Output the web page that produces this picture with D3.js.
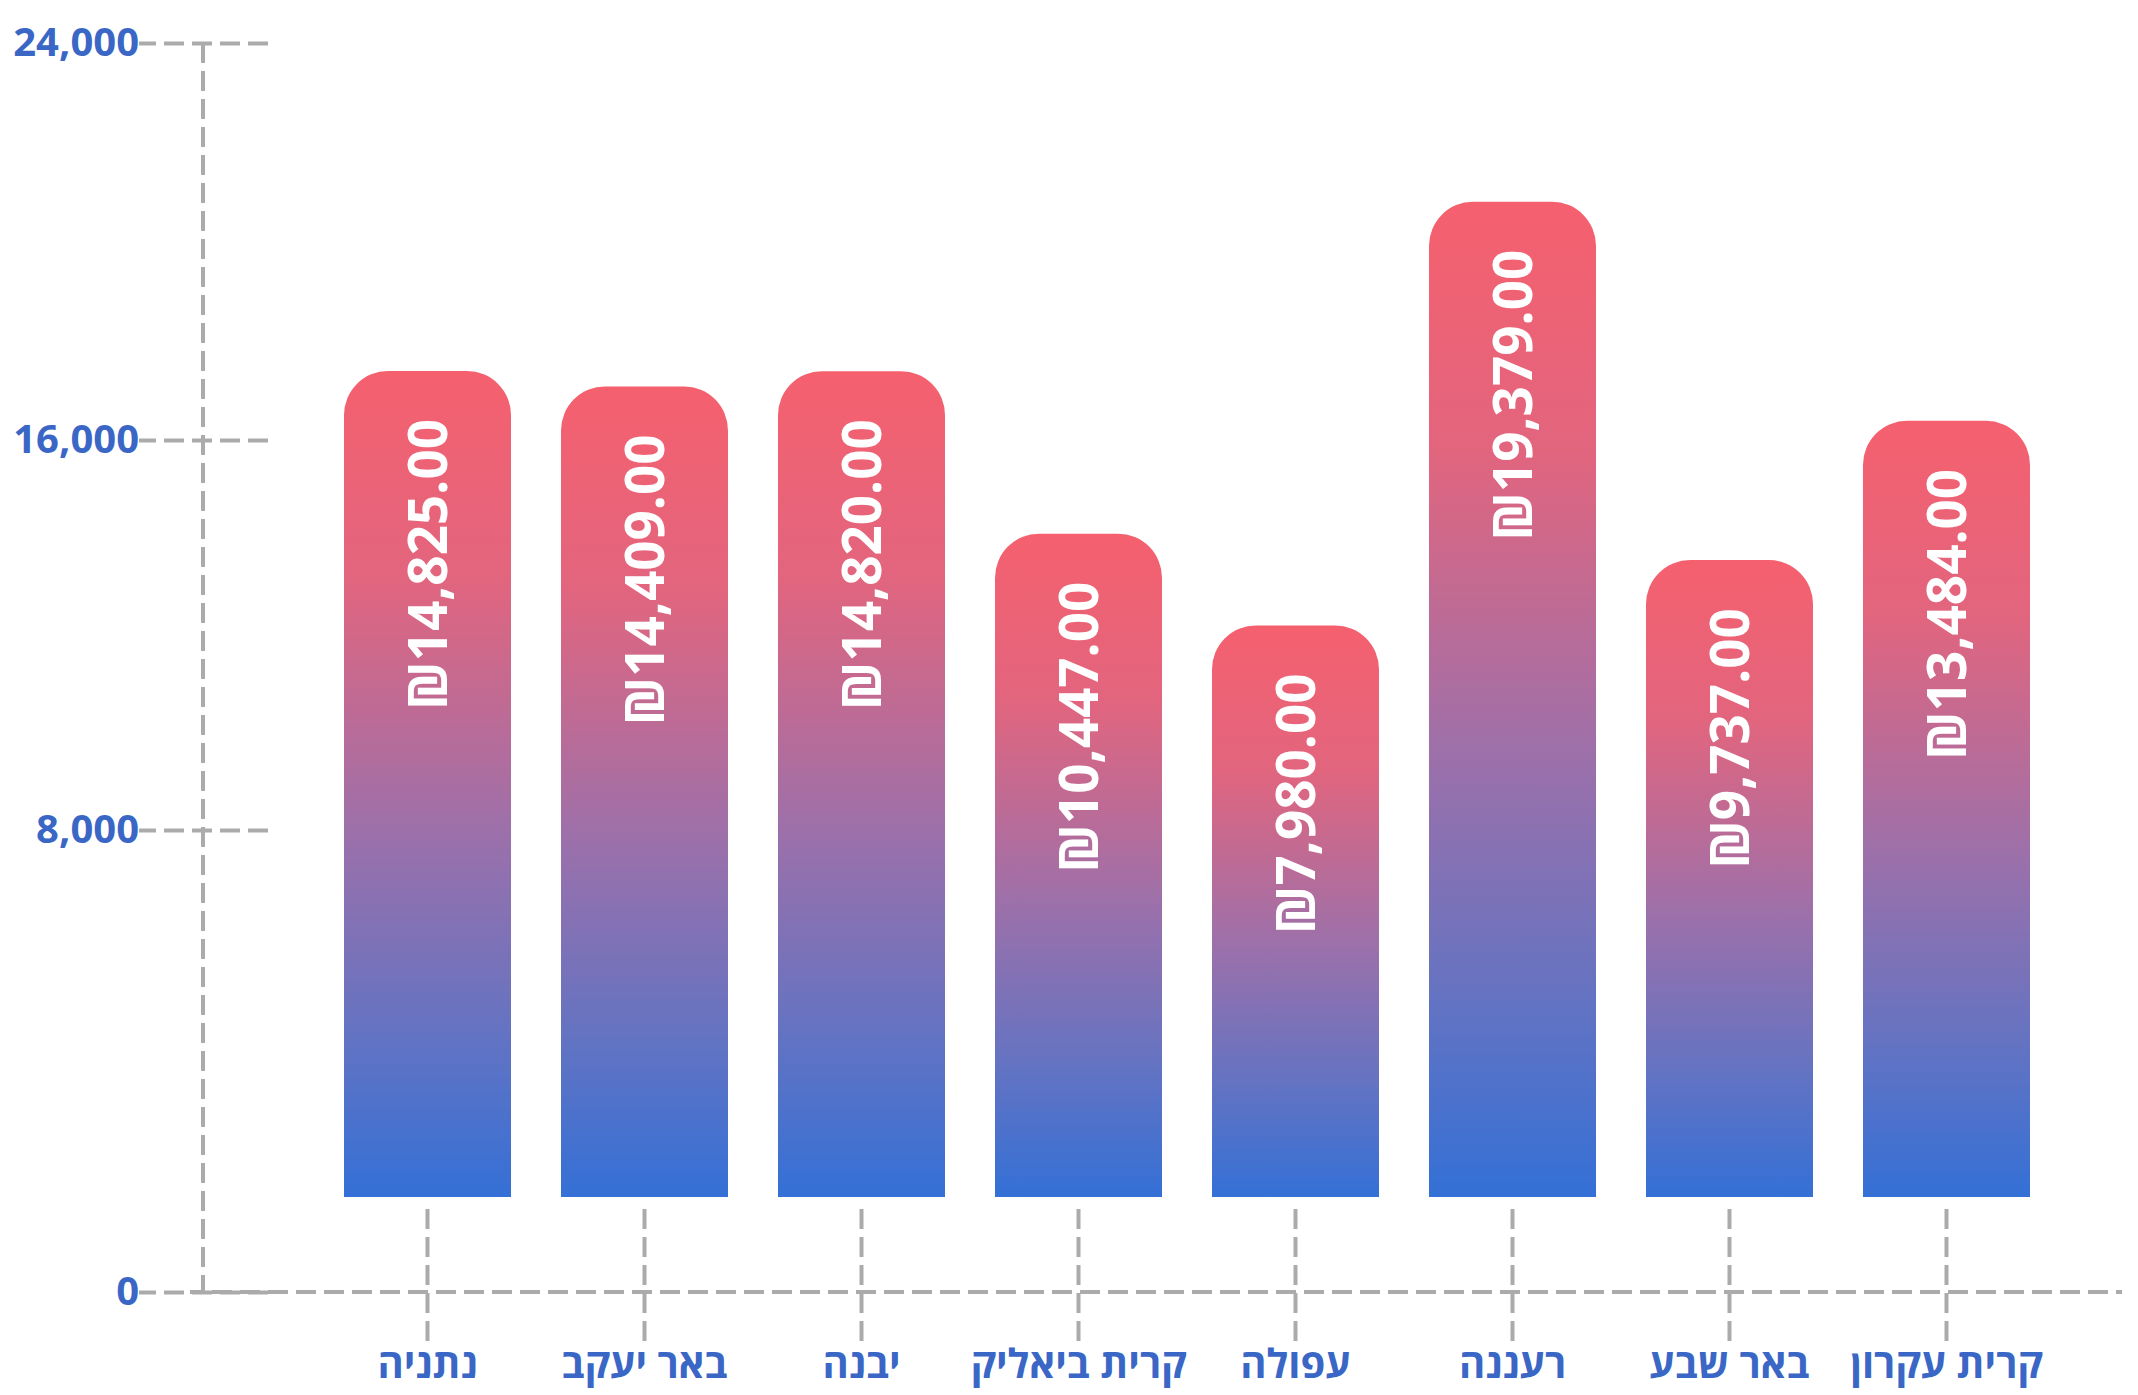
<!DOCTYPE html>
<html>
<head>
<meta charset="utf-8">
<script src="https://cdnjs.cloudflare.com/ajax/libs/d3/7.8.5/d3.min.js"></script>
<style>
  body { margin: 0; background: #fff; }
  svg { display: block; }
  text { font-family: "Open Sans", "DejaVu Sans", sans-serif; }
</style>
</head>
<body>
<div id="chart"></div>
<script>
// data
var cities = ["נתניה", "באר יעקב", "יבנה", "קרית ביאליק", "עפולה", "רעננה", "באר שבע", "קרית עקרון"];
var salaries = [14825, 14409, 14820, 10447, 7980, 19379, 9737, 13484];
var yTicks = [0, 8000, 16000, 24000];

// look
var width = 2138;
var height = 1395;
var blue = "#3a67c6";
var grid = "#ababab";
var dash = "20,8";
var barBase = 1197;   // bars stand on a floor above the axis
var labelGap = 48;
var radius = 44;

var ils = d3.formatLocale({ decimal: ".", thousands: ",", grouping: [3], currency: ["₪", ""] });
var fmt = ils.format("$,.2f");
var fmtTick = d3.format(",");

var data = cities.map(function(c, i) { return { city: c, value: salaries[i] }; });

var svg = d3.select("#chart").append("svg")
  .attr("width", width)
  .attr("height", height);

// gradient per bar, red on top to blue at the bottom
var grad = svg.append("defs").append("linearGradient")
  .attr("id", "barfill")
  .attr("x1", 0).attr("y1", 0).attr("x2", 0).attr("y2", 1);
[[0, "#f5606e"], [0.25, "#e2657e"], [0.55, "#9e70a9"], [0.8, "#6473c2"], [1, "#3470d6"]]
  .forEach(function(s) {
    grad.append("stop").attr("offset", s[0]).attr("stop-color", s[1]);
  });

// scales
var x = d3.scaleBand()
  .domain(cities)
  .range([319, 2055])
  .paddingInner(0.2304)
  .paddingOuter(0.1152);

// the axis of the picture is not evenly spaced
var y = d3.scaleLinear()
  .domain(yTicks)
  .range([1292, 830, 440, 43]);

// bar heights (their own scale, fitted to the picture)
var yBar = d3.scaleLinear()
  .domain([0, 24000])
  .range([barBase - 275, barBase - 275 - 892]);

// y axis: short dashed tick lines through the vertical line
var yAxis = svg.append("g")
  .attr("transform", "translate(268,0)")
  .call(d3.axisLeft(y).tickValues(yTicks).tickFormat(fmtTick).tickSizeInner(129).tickSizeOuter(0).tickPadding(0));
yAxis.select(".domain").remove();
yAxis.selectAll("line")
  .attr("stroke", grid).attr("stroke-width", 4).attr("stroke-dasharray", dash);
yAxis.selectAll("text")
  .attr("fill", blue)
  .attr("font-size", "40px")
  .attr("font-weight", 700);

svg.append("line")
  .attr("x1", 203).attr("x2", 203)
  .attr("y1", y(24000)).attr("y2", y(0))
  .attr("stroke", grid).attr("stroke-width", 4).attr("stroke-dasharray", dash);

svg.append("line")
  .attr("x1", 190).attr("x2", 2122)
  .attr("y1", y(0)).attr("y2", y(0))
  .attr("stroke", grid).attr("stroke-width", 4).attr("stroke-dasharray", dash)
  .attr("stroke-dashoffset", 6);

// x axis: ticks hang from under the bars across the zero line
var xAxis = svg.append("g")
  .attr("transform", "translate(0," + (barBase + 12) + ")")
  .call(d3.axisBottom(x).tickSizeInner(134).tickSizeOuter(0).tickPadding(7));
xAxis.select(".domain").remove();
xAxis.selectAll("line")
  .attr("stroke", grid).attr("stroke-width", 4).attr("stroke-dasharray", dash);
xAxis.selectAll("text")
  .attr("fill", blue)
  .attr("font-size", "40px")
  .attr("font-weight", 700);

// bars with rounded tops
function barPath(d) {
  var x0 = x(d.city), x1 = x0 + x.bandwidth();
  var top = yBar(d.value);
  var r = radius;
  return "M" + x0 + "," + barBase
    + " L" + x0 + "," + (top + r)
    + " A" + r + "," + r + " 0 0 1 " + (x0 + r) + "," + top
    + " L" + (x1 - r) + "," + top
    + " A" + r + "," + r + " 0 0 1 " + x1 + "," + (top + r)
    + " L" + x1 + "," + barBase + " Z";
}

var bars = svg.append("g").selectAll("g")
  .data(data)
  .enter().append("g");

bars.append("path")
  .attr("d", barPath)
  .attr("fill", "url(#barfill)");

// vertical value labels, read bottom to top
bars.append("text")
  .attr("transform", function(d) {
    return "translate(" + (x(d.city) + x.bandwidth() / 2) + "," + (yBar(d.value) + labelGap) + ") rotate(-90)";
  })
  .attr("dy", "0.36em")
  .attr("text-anchor", "end")
  .attr("fill", "#fff")
  .attr("font-size", "53px")
  .attr("font-weight", 700)
  .text(function(d) { return fmt(d.value); });
</script>
</body>
</html>
